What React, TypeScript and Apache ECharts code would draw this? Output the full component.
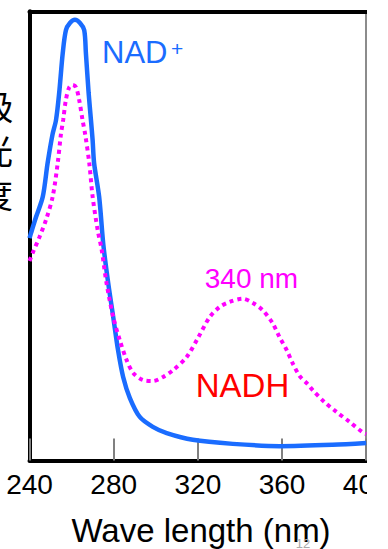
import React, { useEffect, useRef } from "react";
import * as echarts from "echarts";

const nadWavelength = [240, 240.7, 243.1, 246.3, 248.6, 250.9, 252.6, 254.1, 255.8, 257.3, 259.2, 261.6, 264.0, 266.0, 266.8, 268.1, 269.2, 270.0, 270.7, 273.1, 275.1, 277.4, 279.8, 282.1, 284.5, 287.7, 292.4, 298.6, 305.2, 317.6, 336.6, 358.9, 384.0, 400];
const nadAbs = [49.5, 50.6, 54.2, 58.7, 66.2, 72.5, 75.8, 81.8, 90.7, 95.8, 97.4, 98.1, 97.4, 95.8, 90.7, 81.8, 75.8, 71.3, 66.2, 58.7, 48.0, 39.5, 31.9, 24.5, 18.6, 13.9, 9.7, 7.5, 6.1, 4.6, 3.7, 3.2, 3.5, 3.9];

const nadhWavelength = [240, 241.5, 244.7, 247.8, 251.0, 253.4, 254.9, 256.0, 257.3, 258.9, 260.5, 262.1, 263.6, 265.2, 266.5, 268.4, 270.0, 272.4, 274.3, 276.6, 279.8, 282.9, 286.1, 289.3, 294.0, 298.7, 303.5, 308.2, 314.6, 320.1, 325.6, 330.4, 335.1, 341.3, 346.0, 350.7, 355.5, 358.8, 362.2, 365.0, 368.4, 372.2, 374.5, 380.2, 385.9, 392.1, 398.2, 400];
const nadhAbs = [44.4, 46.2, 49.7, 53.5, 58.7, 66.2, 72.5, 75.8, 80.3, 83.1, 83.6, 83.1, 80.3, 75.8, 72.5, 66.2, 58.7, 51.3, 46.9, 39.5, 31.9, 26.8, 22.4, 19.5, 17.9, 17.7, 18.6, 20.1, 23.0, 27.3, 31.9, 34.2, 35.3, 36.0, 35.1, 33.5, 30.6, 27.5, 24.6, 21.7, 18.8, 17.0, 15.7, 13.0, 10.8, 8.6, 6.3, 5.9];

const xMin = 240;
const xMax = 400;
const xStep = 40;
const xTitle = "Wave length (nm)";
const yTitleChars = ["吸", "光", "度"];

const LATIN = "'Liberation Sans', Arial, sans-serif";
const CJK = "'Noto Sans CJK JP', 'Noto Sans CJK SC', sans-serif";
const BLUE = "#1a6cff";
const MAGENTA = "#ff00ff";

export default function App() {
  const ref = useRef<HTMLDivElement>(null);
  useEffect(() => {
    document.body.style.margin = "0";
    const chart = echarts.init(ref.current!, null, { renderer: "svg" });
    const nad = nadWavelength.map((w, i) => [w, nadAbs[i]]);
    const nadh = nadhWavelength.map((w, i) => [w, nadhAbs[i]]);
    chart.setOption({
      animation: false,
      backgroundColor: "#ffffff",
      grid: { left: 29.5, right: 0.8, top: 11.3, bottom: 88.5, containLabel: false, outerBoundsMode: "none" },
      xAxis: [
        {
          type: "value", min: xMin, max: xMax, interval: xStep, position: "bottom",
          axisLine: { show: true, onZero: false, lineStyle: { color: "#000", width: 4 } },
          axisTick: { show: true, inside: true, length: 22, lineStyle: { color: "#808080", width: 2 } },
          axisLabel: { fontSize: 28, color: "#000", margin: 10, fontFamily: LATIN, showMinLabel: true, showMaxLabel: true },
          splitLine: { show: false },
        },
        {
          type: "value", min: xMin, max: xMax, position: "top",
          axisLine: { show: true, onZero: false, lineStyle: { color: "#000", width: 4 } },
          axisTick: { show: false }, axisLabel: { show: false }, splitLine: { show: false },
        },
      ],
      yAxis: [
        {
          type: "value", min: 0, max: 100, position: "left",
          axisLine: { show: true, onZero: false, lineStyle: { color: "#000", width: 4 } },
          axisTick: { show: false }, axisLabel: { show: false }, splitLine: { show: false },
        },
        {
          type: "value", min: 0, max: 100, position: "right",
          axisLine: { show: true, onZero: false, lineStyle: { color: "#666", width: 1.5 } },
          axisTick: { show: false }, axisLabel: { show: false }, splitLine: { show: false },
        },
      ],
      series: [
        {
          type: "line", data: nad, smooth: 0.3, showSymbol: false, z: 3,
          lineStyle: { color: BLUE, width: 4.5 },
        },
        {
          type: "line", data: nadh, smooth: 0.3, showSymbol: false, z: 4,
          lineStyle: { color: MAGENTA, width: 4, type: [4, 4], cap: "butt" },
        },
      ],
      graphic: [
        ...yTitleChars.map((c, i) => ({
          type: "text", x: -4, y: 105 + i * 44,
          style: { text: c, fontSize: 34, fontFamily: CJK, fill: "#000", textAlign: "center", textVerticalAlign: "middle" },
        })),
        { type: "text", x: 102, y: 52.5, style: { text: "NAD", fontSize: 31, fontFamily: LATIN, fill: BLUE, textAlign: "left", textVerticalAlign: "middle" } },
        { type: "text", x: 177, y: 48, style: { text: "+", fontSize: 21, fontFamily: LATIN, fill: BLUE, textAlign: "center", textVerticalAlign: "middle" } },
        { type: "text", x: 251.5, y: 278, style: { text: "340 nm", fontSize: 28, fontFamily: LATIN, fill: MAGENTA, textAlign: "center", textVerticalAlign: "middle" } },
        { type: "text", x: 242.5, y: 385.5, style: { text: "NADH", fontSize: 33, fontFamily: LATIN, fill: "#ff0000", textAlign: "center", textVerticalAlign: "middle" } },
        { type: "text", x: 201, y: 530, style: { text: xTitle, fontSize: 33, fontFamily: LATIN, fill: "#000", textAlign: "center", textVerticalAlign: "middle" } },
        { type: "text", x: 303, y: 543, style: { text: "12", fontSize: 13, fontFamily: LATIN, fill: "#aaaaaa", textAlign: "center", textVerticalAlign: "middle" } },
      ],
    });
    return () => chart.dispose();
  }, []);
  return <div ref={ref} style={{ position: "fixed", left: 0, top: 0, width: 367, height: 549, overflow: "hidden" }} />;
}
